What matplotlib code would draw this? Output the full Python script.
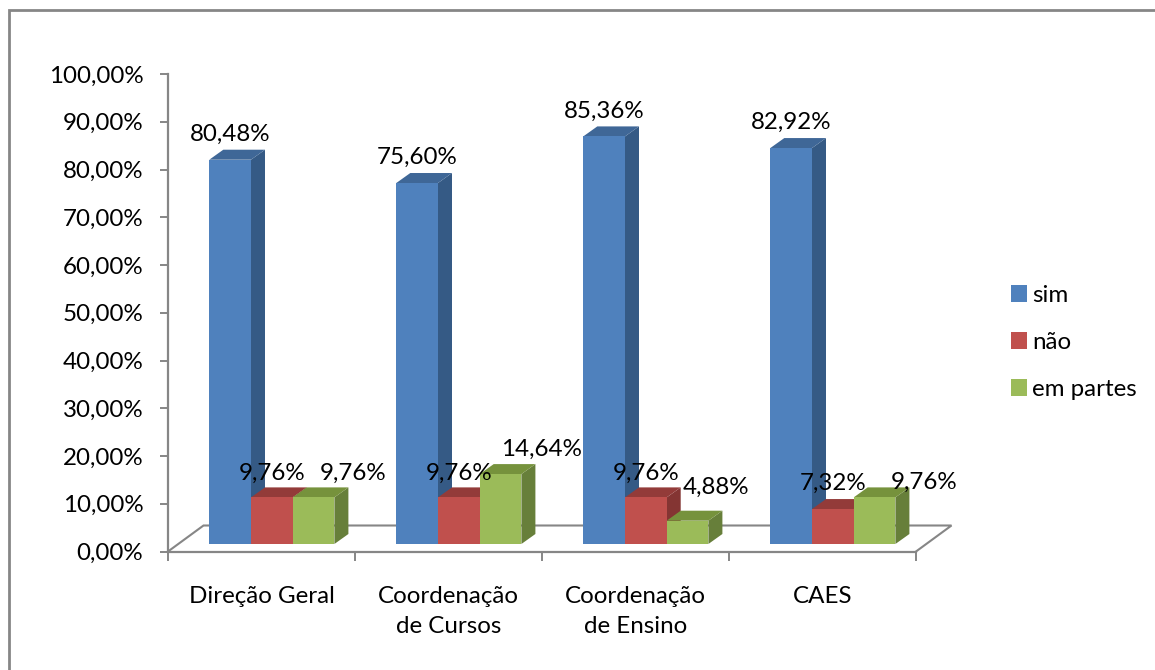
import matplotlib
matplotlib.use("Agg")
import matplotlib.pyplot as plt
from matplotlib.patches import Polygon, Rectangle

categories = ["Direção Geral", "Coordenação\nde Cursos", "Coordenação\nde Ensino", "CAES"]
sim = [80.48, 75.60, 85.36, 82.92]
nao = [9.76, 9.76, 9.76, 7.32]
em_partes = [9.76, 14.64, 4.88, 9.76]
series_names = ["sim", "não", "em partes"]
y_ticks = [0, 10, 20, 30, 40, 50, 60, 70, 80, 90, 100]
y_tick_labels = ["0,00%", "10,00%", "20,00%", "30,00%", "40,00%", "50,00%",
                 "60,00%", "70,00%", "80,00%", "90,00%", "100,00%"]
label_sim = ["80,48%", "75,60%", "85,36%", "82,92%"]
label_nao = ["9,76%", "9,76%", "9,76%", "7,32%"]
label_partes = ["9,76%", "14,64%", "4,88%", "9,76%"]

W, H = 1155, 670
L, R, T, B = 168, 916, 74, 551.5
GRAY = "#868686"
plt.rcParams["font.family"] = ["Lato", "DejaVu Sans"]
FS = 17.4

fig = plt.figure(figsize=(W / 100, H / 100), dpi=100)
ax = fig.add_axes([L / W, 1 - B / H, (R - L) / W, (B - T) / H])
ax.set_xlim(0, 4)
ax.set_ylim(0, 100)

ux = (R - L) / 4      # pixels per category
uy = (B - T) / 100    # pixels per percent
px = lambda p: p / ux
py = lambda p: p / uy

# chart frame
fig.add_artist(Rectangle((8.5 / W, -0.01), (W + 20) / W, 1 - 10 / H + 0.01,
                         transform=fig.transFigure, fill=False, ec=GRAY, lw=2))

# floor
fdx, fdy = px(35.5), py(26)
ax.plot([0, fdx, 4 + fdx, 4], [0, fdy, fdy, 0], color=GRAY, lw=1.5,
        clip_on=False, zorder=1, solid_joinstyle="miter")

# bars
base = py(7.5)
bar_w = px(41.7)
start = px(41.3)
dx, dy = px(14), py(10)
colors = [("#4F81BD", "#3F6797", "#355A85"),
          ("#C0504D", "#933B39", "#843533"),
          ("#9BBB59", "#76923C", "#677F3A")]
series = [sim, nao, em_partes]
labels = [label_sim, label_nao, label_partes]
# pixel offsets of the data labels from the front-top centre of each bar
off_x = [[0, 0, 0, 0], [0, 0, 0, 0], [40, 41, 28, 50]]
off_y = [[25.5, 25.5, 25.5, 25.5], [24.5, 24.5, 24.5, 25.5], [24.5, 25, 33.5, 15.5]]

for g in range(4):
    for s, vals in enumerate(series):
        front, top, side = colors[s]
        x0 = g + start + s * bar_w
        v = vals[g]
        y1 = base + v
        z = 3 + g * 3 + s * 0.1
        ax.add_patch(Polygon([(x0 + bar_w, base), (x0 + bar_w + dx, base + dy),
                              (x0 + bar_w + dx, y1 + dy), (x0 + bar_w, y1)],
                             fc=side, ec="none", clip_on=False, zorder=z))
        ax.add_patch(Polygon([(x0, y1), (x0 + dx, y1 + dy),
                              (x0 + bar_w + dx, y1 + dy), (x0 + bar_w, y1)],
                             fc=top, ec="none", clip_on=False, zorder=z))
        ax.bar(x0, v, width=bar_w, bottom=base, align="edge", color=front,
               zorder=z + 0.01, clip_on=False,
               label=series_names[s] if g == 0 else None)

for g in range(4):
    for s, vals in enumerate(series):
        x0 = g + start + s * bar_w
        ax.annotate(labels[s][g], (x0 + bar_w / 2, base + vals[g]),
                    xytext=(off_x[s][g], off_y[s][g]), textcoords="offset pixels",
                    ha="center", va="center", fontsize=FS, color="black",
                    zorder=30, annotation_clip=False)

# axes
for sp in ("top", "right"):
    ax.spines[sp].set_visible(False)
for sp in ("left", "bottom"):
    ax.spines[sp].set_color(GRAY)
    ax.spines[sp].set_linewidth(1.6)
    ax.spines[sp].set_zorder(2)
ax.set_yticks(y_ticks)
ax.set_yticklabels(y_tick_labels, fontsize=FS)
ax.tick_params(axis="y", length=5.8, width=1.4, color=GRAY, pad=12)
ax.set_xticks(range(5))
ax.set_xticklabels([])
ax.tick_params(axis="x", which="major", length=6.2, width=1.4, color=GRAY)
ax.set_xticks([0.5, 1.5, 2.5, 3.5], minor=True)
ax.set_xticklabels(categories, minor=True, fontsize=FS, linespacing=1.58)
ax.tick_params(axis="x", which="minor", length=0, pad=24.5)

handles, leg_labels = ax.get_legend_handles_labels()
ax.figure.legend(handles, leg_labels, loc="upper left",
                 bbox_to_anchor=(1011 / W, 1 - 285 / H), frameon=False, fontsize=FS,
                 handlelength=0.68, handleheight=0.68, handletextpad=0.2,
                 labelspacing=1.07, borderpad=0, borderaxespad=0)

fig.savefig("out.png", dpi=100)
